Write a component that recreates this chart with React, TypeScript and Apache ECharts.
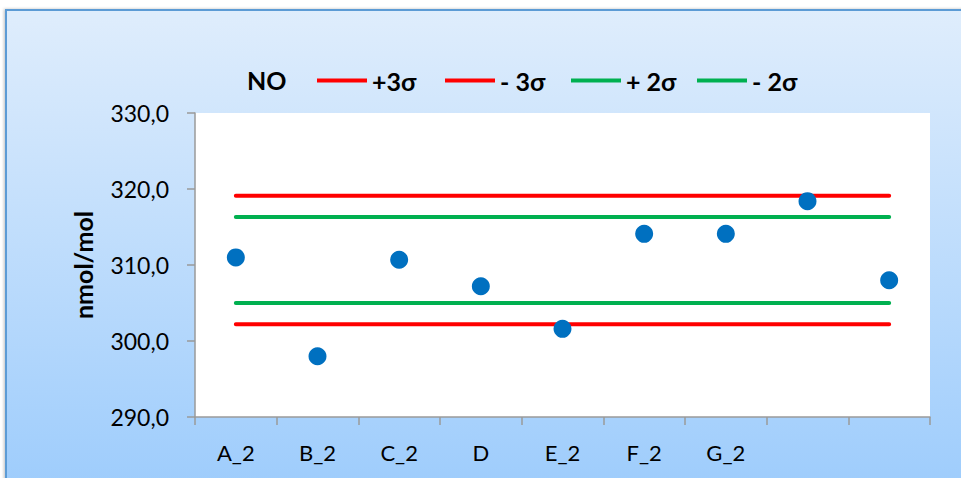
import React, { useEffect, useRef } from "react";
import * as echarts from "echarts";

const categories = ["A_2", "B_2", "C_2", "D", "E_2", "F_2", "G_2", "", ""];
const noValues = [311.0, 298.0, 310.7, 307.2, 301.6, 314.1, 314.1, 318.4, 308.0];
const plus3Sigma = 319.1;
const minus3Sigma = 302.2;
const plus2Sigma = 316.3;
const minus2Sigma = 305.0;
const legendNames = ["+3σ", "- 3σ", "+ 2σ", "- 2σ"];
const yTicks = { min: 290, max: 330, interval: 10 };

const FONT = "Lato, 'Noto Sans', sans-serif";

export default function App() {
  const ref = useRef<HTMLDivElement>(null);
  useEffect(() => {
    if (!ref.current) return;
    const chart = echarts.init(ref.current, null, { renderer: "svg" });
    const flat = (v: number) => categories.map(() => v);
    const lineSeries = (name: string, v: number, color: string) => ({
      name,
      type: "line",
      data: flat(v),
      symbol: "none",
      lineStyle: { color, width: 4, cap: "round" },
      itemStyle: { color },
      z: 2,
    });
    const legendLefts = [317, 445, 571, 697];
    const legendTextStyle = { fontFamily: FONT, fontSize: 25, fontWeight: "bold", color: "#000" };
    chart.setOption({
      animation: false,
      backgroundColor: "#ffffff",
      graphic: [
        {
          type: "rect",
          z: -10,
          silent: true,
          shape: { x: 6, y: 10, width: 1000, height: 500 },
          style: {
            fill: new echarts.graphic.LinearGradient(0, 0, 0, 1, [
              { offset: 0, color: "#DFEDFC" },
              { offset: 1, color: "#9BCBFC" },
            ]),
            stroke: "#5B9BD5",
            lineWidth: 2,
            shadowColor: "rgba(0,0,0,0.25)",
            shadowBlur: 3,
            shadowOffsetX: -1,
          },
        },
      ],
      title: {
        text: "NO",
        left: 247,
        top: 67,
        padding: 0,
        textStyle: legendTextStyle,
      },
      legend: legendNames.map((n, i) => ({
        left: legendLefts[i],
        top: 68,
        padding: 0,
        itemWidth: 50,
        itemHeight: 4,
        icon: "rect",
        data: [n],
        textStyle: legendTextStyle,
      })),
      grid: {
        left: 195,
        right: 31,
        top: 113,
        bottom: 61,
        show: true,
        backgroundColor: "#ffffff",
        borderWidth: 0,
      },
      xAxis: {
        type: "category",
        data: categories,
        boundaryGap: true,
        axisLine: { lineStyle: { color: "#9a9a9a", width: 1.5 } },
        axisTick: { show: true, length: 8, alignWithLabel: false, lineStyle: { color: "#9a9a9a", width: 1.5 } },
        axisLabel: { fontFamily: FONT, fontSize: 22, color: "#000", margin: 24, interval: 0 },
        splitLine: { show: false },
      },
      yAxis: {
        type: "value",
        min: yTicks.min,
        max: yTicks.max,
        interval: yTicks.interval,
        name: "nmol/mol",
        nameLocation: "middle",
        nameGap: 100,
        nameRotate: 90,
        nameTextStyle: { fontFamily: FONT, fontSize: 25, fontWeight: "bold", color: "#000" },
        axisLine: { show: true, lineStyle: { color: "#9a9a9a", width: 1.5 } },
        axisTick: { show: true, length: 8, lineStyle: { color: "#9a9a9a", width: 1.5 } },
        axisLabel: {
          fontFamily: FONT,
          fontSize: 23,
          color: "#000",
          margin: 26,
          formatter: (v: number) => v.toFixed(1).replace(".", ","),
        },
        splitLine: { show: false },
      },
      series: [
        lineSeries("+3σ", plus3Sigma, "#FF0000"),
        lineSeries("- 3σ", minus3Sigma, "#FF0000"),
        lineSeries("+ 2σ", plus2Sigma, "#00B050"),
        lineSeries("- 2σ", minus2Sigma, "#00B050"),
        {
          name: "NO",
          type: "scatter",
          data: noValues,
          symbol: "circle",
          symbolSize: 18,
          itemStyle: { color: "#0070C0", opacity: 1 },
          z: 5,
        },
      ],
    });
    return () => chart.dispose();
  }, []);
  return (
    <div
      ref={ref}
      style={{ position: "fixed", left: 0, top: 0, width: 961, height: 478 }}
    />
  );
}
